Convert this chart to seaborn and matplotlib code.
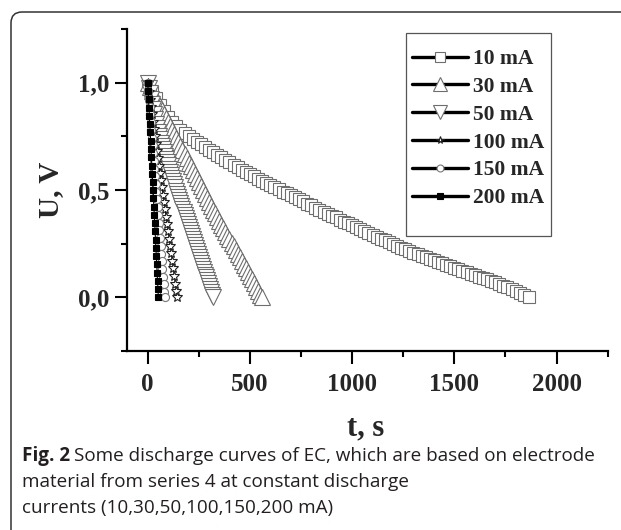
import numpy as np
import pandas as pd
import matplotlib
matplotlib.use("Agg")
import matplotlib.pyplot as plt
import seaborn as sns
from matplotlib.lines import Line2D
from matplotlib.patches import FancyBboxPatch, Rectangle
from matplotlib.transforms import IdentityTransform
from matplotlib.ticker import FixedLocator, FuncFormatter

# --- data (time in s, voltage in V) ---
t_10 = [0, 20, 40, 60, 80, 100, 120, 140, 160, 180, 200, 220, 240, 260, 280,
        300, 320, 340, 360, 380, 400, 420, 440, 460, 480, 500, 520, 540, 560,
        580, 600, 620, 640, 660, 680, 700, 720, 740, 760, 780, 800, 820, 840,
        860, 880, 900, 920, 940, 960, 980, 1000, 1020, 1040, 1060, 1080, 1100,
        1120, 1140, 1160, 1180, 1200, 1220, 1240, 1260, 1280, 1300, 1320, 1340,
        1360, 1380, 1400, 1420, 1440, 1460, 1480, 1500, 1520, 1540, 1560, 1580,
        1600, 1620, 1640, 1660, 1680, 1700, 1720, 1740, 1760, 1780, 1800, 1820,
        1840, 1864]
u_10 = [1.000, 0.955, 0.930, 0.898, 0.870, 0.842, 0.815, 0.796, 0.780, 0.764,
        0.750, 0.737, 0.725, 0.712, 0.700, 0.688, 0.676, 0.664, 0.652, 0.640,
        0.629, 0.617, 0.606, 0.595, 0.585, 0.574, 0.564, 0.553, 0.543, 0.532,
        0.522, 0.512, 0.503, 0.493, 0.484, 0.475, 0.466, 0.456, 0.447, 0.437,
        0.428, 0.418, 0.408, 0.399, 0.390, 0.381, 0.372, 0.362, 0.353, 0.344,
        0.335, 0.326, 0.317, 0.308, 0.299, 0.290, 0.282, 0.273, 0.265, 0.256,
        0.248, 0.239, 0.231, 0.223, 0.216, 0.208, 0.201, 0.194, 0.187, 0.180,
        0.173, 0.166, 0.159, 0.152, 0.145, 0.138, 0.131, 0.124, 0.118, 0.111,
        0.104, 0.097, 0.091, 0.084, 0.077, 0.070, 0.062, 0.055, 0.047, 0.039,
        0.031, 0.022, 0.013, 0.000]

t_30 = [0, 10, 20, 30, 40, 50, 60, 70, 80, 90, 100, 110, 120, 130, 140, 150,
        160, 170, 180, 190, 200, 210, 220, 230, 240, 250, 260, 270, 280, 290,
        300, 310, 320, 330, 340, 350, 360, 370, 380, 390, 400, 410, 420, 430,
        440, 450, 460, 470, 480, 490, 500, 510, 520, 530, 540, 550, 557]
u_30 = [1.000, 0.978, 0.960, 0.943, 0.925, 0.907, 0.889, 0.871, 0.852, 0.834,
        0.815, 0.797, 0.778, 0.759, 0.740, 0.722, 0.703, 0.685, 0.666, 0.647,
        0.628, 0.610, 0.591, 0.573, 0.554, 0.536, 0.517, 0.499, 0.480, 0.462,
        0.444, 0.427, 0.409, 0.392, 0.374, 0.357, 0.339, 0.322, 0.305, 0.288,
        0.271, 0.254, 0.237, 0.220, 0.203, 0.186, 0.169, 0.152, 0.135, 0.118,
        0.101, 0.084, 0.067, 0.049, 0.031, 0.013, 0.000]

t_50 = [0, 5, 10, 15, 20, 25, 30, 35, 40, 45, 50, 55, 60, 65, 70, 75, 80, 85,
        90, 95, 100, 105, 110, 115, 120, 125, 130, 135, 140, 145, 150, 155, 160,
        165, 170, 175, 180, 185, 190, 195, 200, 205, 210, 215, 220, 225, 230,
        235, 240, 245, 250, 255, 260, 265, 270, 275, 280, 285, 290, 295, 300,
        305, 310, 315, 320]
u_50 = [1.000, 0.975, 0.950, 0.925, 0.900, 0.878, 0.855, 0.830, 0.806, 0.788,
        0.770, 0.753, 0.737, 0.721, 0.706, 0.690, 0.675, 0.660, 0.645, 0.630,
        0.615, 0.600, 0.585, 0.570, 0.556, 0.541, 0.527, 0.512, 0.497, 0.482,
        0.468, 0.454, 0.440, 0.425, 0.411, 0.397, 0.383, 0.369, 0.355, 0.341,
        0.327, 0.313, 0.299, 0.285, 0.271, 0.257, 0.243, 0.229, 0.215, 0.201,
        0.187, 0.173, 0.160, 0.146, 0.133, 0.119, 0.106, 0.093, 0.080, 0.066,
        0.053, 0.040, 0.027, 0.013, 0.000]

t_100 = [0, 5, 10, 15, 20, 25, 30, 35, 40, 45, 50, 55, 60, 65, 70, 75, 80, 85,
         90, 95, 100, 105, 110, 115, 120, 125, 130, 135, 140, 144]
u_100 = [1.000, 0.955, 0.920, 0.886, 0.852, 0.818, 0.784, 0.750, 0.716, 0.682,
         0.648, 0.614, 0.580, 0.546, 0.512, 0.478, 0.444, 0.410, 0.376, 0.342,
         0.308, 0.274, 0.240, 0.206, 0.171, 0.136, 0.100, 0.064, 0.028, 0.000]

t_150 = [0, 3, 6, 9, 12, 15, 18, 21, 24, 27, 30, 33, 36, 39, 42, 45, 48, 51,
         54, 57, 60, 63, 66, 69, 72, 75, 78, 81, 83]
u_150 = [1.000, 0.960, 0.924, 0.888, 0.852, 0.816, 0.780, 0.744, 0.708, 0.672,
         0.636, 0.600, 0.564, 0.528, 0.492, 0.456, 0.420, 0.384, 0.348, 0.312,
         0.276, 0.240, 0.204, 0.168, 0.132, 0.096, 0.060, 0.024, 0.000]

t_200 = [0, 2, 4, 6, 8, 10, 12, 14, 16, 18, 20, 22, 24, 26, 28, 30, 32, 34, 36,
         38, 40, 42, 44, 46, 48, 50, 52]
u_200 = [1.000, 0.960, 0.922, 0.883, 0.845, 0.806, 0.768, 0.730, 0.691, 0.653,
         0.614, 0.576, 0.538, 0.499, 0.461, 0.422, 0.384, 0.346, 0.307, 0.269,
         0.230, 0.192, 0.154, 0.115, 0.077, 0.038, 0.000]

labels = ["10 mA", "30 mA", "50 mA", "100 mA", "150 mA", "200 mA"]
x_major = [0, 500, 1000, 1500, 2000]
x_minor = [250, 750, 1250, 1750, 2250]
y_major = [0.0, 0.5, 1.0]
y_minor = [-0.25, 0.25, 0.75, 1.25]

series = [(t_10, u_10), (t_30, u_30), (t_50, u_50),
          (t_100, u_100), (t_150, u_150), (t_200, u_200)]
frames = []
for lab, (t, u) in zip(labels, series):
    frames.append(pd.DataFrame({"t": t, "U": u, "I": lab}))
df = pd.concat(frames, ignore_index=True)

# marker style per series: (marker, size plot, size legend, face, edge)
styles = {
    "10 mA": ("s", 9.0, 7.5, "white", "#6e6e6e"),
    "30 mA": ("^", 11.5, 10.0, "white", "#6e6e6e"),
    "50 mA": ("v", 11.5, 10.0, "white", "#6e6e6e"),
    "100 mA": ("*", 7.0, 5.5, "white", "#222222"),
    "150 mA": ("o", 5.8, 5.0, "white", "#777777"),
    "200 mA": ("s", 4.0, 4.0, "black", "black"),
}

sns.set_style("ticks")
plt.rcParams["font.family"] = ["Liberation Serif", "DejaVu Serif"]
plt.rcParams["font.weight"] = "bold"

fig = plt.figure(figsize=(6.21, 5.30), dpi=100)
ax = fig.add_axes([127.3 / 621, 1 - 351 / 530, 480.3 / 621, 322 / 530])

for lab in labels:
    m, ms, _, fc, ec = styles[lab]
    sub = df[df["I"] == lab]
    sns.lineplot(data=sub, x="t", y="U", ax=ax, sort=False, estimator=None,
                 color="black", linewidth=0.8, marker=m, markersize=ms,
                 markerfacecolor=fc, markeredgecolor=ec, markeredgewidth=0.8,
                 legend=False)

ax.set_xlim(-100, 2250)
ax.set_ylim(-0.25, 1.25)
ax.xaxis.set_major_locator(FixedLocator(x_major))
ax.xaxis.set_minor_locator(FixedLocator(x_minor))
ax.yaxis.set_major_locator(FixedLocator(y_major))
ax.yaxis.set_minor_locator(FixedLocator(y_minor))
ax.yaxis.set_major_formatter(FuncFormatter(lambda v, p: f"{v:.1f}".replace(".", ",")))
ax.tick_params(which="major", direction="out", length=9, width=1.5,
               labelsize=18, pad=4, color="black")
ax.tick_params(axis="x", which="major", pad=7)
ax.tick_params(which="minor", direction="out", length=4.5, width=1.5, color="black")
for lab_ in ax.get_xticklabels() + ax.get_yticklabels():
    lab_.set_fontweight("bold")

sns.despine(ax=ax)
for side in ["left", "bottom"]:
    ax.spines[side].set_linewidth(1.6)
    ax.spines[side].set_color("black")

ax.set_xlabel("t, s", fontsize=22, fontweight="bold")
ax.set_ylabel("U, V", fontsize=21, fontweight="bold")
ax.xaxis.set_label_coords(0.497, -0.195)
ax.yaxis.set_label_coords(-0.132, 0.5)

# legend
handles = []
for lab in labels:
    m, _, ms, fc, ec = styles[lab]
    handles.append(Line2D([], [], color="black", linewidth=2.4, marker=m,
                          markersize=ms, markerfacecolor=fc,
                          markeredgecolor=ec, markeredgewidth=0.8))
leg = fig.legend(handles, labels, loc="upper left",
                 bbox_to_anchor=(412 / 621, 1 - 49 / 530),
                 frameon=False, handlelength=2.6,
                 handletextpad=0.25, labelspacing=0.36, borderpad=0,
                 borderaxespad=0, prop={"weight": "bold", "size": 15.5})
fig.add_artist(Rectangle((406, 530 - 236), 145, 203, transform=IdentityTransform(),
                         fill=False, edgecolor="#555555", linewidth=0.9))

# card border
fig.add_artist(FancyBboxPatch((11, -30), 700, 548, transform=IdentityTransform(),
                              boxstyle="round,pad=0,rounding_size=11",
                              fill=False, edgecolor="#333333", linewidth=1.1))

# caption
cap_font = ["Open Sans", "DejaVu Sans"]
cap_size = 13.6
fig.canvas.draw()
r = fig.canvas.get_renderer()
bold = fig.text(22 / 621, 1 - 461 / 530, "Fig. 2", fontsize=cap_size,
                family=cap_font, fontweight="bold", color="#231f20",
                va="baseline", ha="left")
bb = bold.get_window_extent(renderer=r)
fig.text((bb.x1 + 4) / 621, 1 - 461 / 530,
         "Some discharge curves of EC, which are based on electrode",
         fontsize=cap_size, family=cap_font, fontweight="normal", color="#231f20",
         va="baseline", ha="left")
fig.text(22 / 621, 1 - 487 / 530, "material from series 4 at constant discharge",
         fontsize=cap_size, family=cap_font, fontweight="normal", color="#231f20",
         va="baseline", ha="left")
fig.text(22 / 621, 1 - 513 / 530, "currents (10,30,50,100,150,200 mA)",
         fontsize=cap_size, family=cap_font, fontweight="normal", color="#231f20",
         va="baseline", ha="left")

fig.savefig("out.png", dpi=100)
